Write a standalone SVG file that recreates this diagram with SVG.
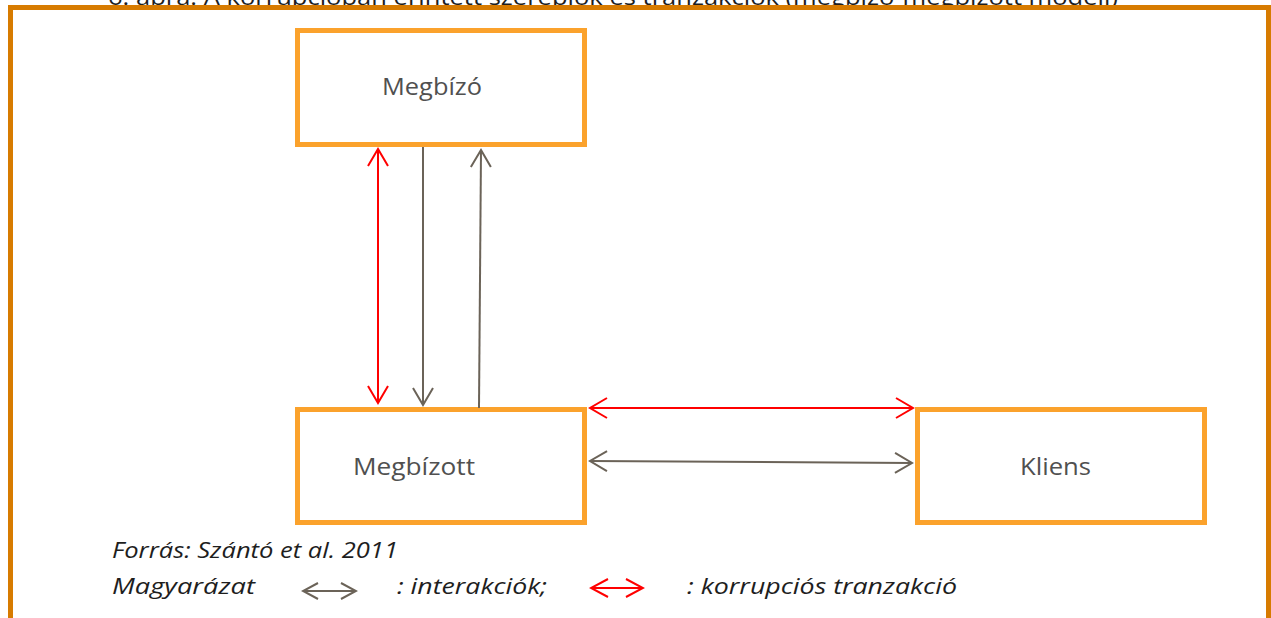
<svg xmlns="http://www.w3.org/2000/svg" width="1271" height="618" viewBox="0 0 1271 618">
  <style>
    .box { fill: #ffffff; stroke: #FBA22C; stroke-width: 5; }
    .lbl { font-family: "Open Sans", "DejaVu Sans", sans-serif; font-size: 23px; fill: #505050; }
    .foot { font-family: "Open Sans", "DejaVu Sans", sans-serif; font-style: italic; font-size: 21px; fill: #1e1e1e; }
    .red { stroke: #FF0000; stroke-width: 2; fill: none; }
    .gray { stroke: #6B6358; stroke-width: 2; fill: none; }
  </style>
  <defs>
    <marker id="ahRed" markerUnits="userSpaceOnUse" viewBox="-19 -12 21 24" refX="0" refY="0" markerWidth="21" markerHeight="24" orient="auto-start-reverse">
      <path d="M-17,-10 L0,0 L-17,10" fill="none" stroke="#FF0000" stroke-width="2"/>
    </marker>
    <marker id="ahGray" markerUnits="userSpaceOnUse" viewBox="-19 -12 21 24" refX="0" refY="0" markerWidth="21" markerHeight="24" orient="auto-start-reverse">
      <path d="M-17,-10 L0,0 L-17,10" fill="none" stroke="#6B6358" stroke-width="2"/>
    </marker>
    <marker id="ahRedS" markerUnits="userSpaceOnUse" viewBox="-19 -12 21 24" refX="0" refY="0" markerWidth="21" markerHeight="24" orient="auto-start-reverse">
      <path d="M-17,-9 L0,0 L-17,9" fill="none" stroke="#FF0000" stroke-width="2"/>
    </marker>
    <marker id="ahGrayS" markerUnits="userSpaceOnUse" viewBox="-19 -12 21 24" refX="0" refY="0" markerWidth="21" markerHeight="24" orient="auto-start-reverse">
      <path d="M-15,-8 L0,0 L-15,8" fill="none" stroke="#6B6358" stroke-width="2"/>
    </marker>
  </defs>
  <rect x="0" y="0" width="1271" height="618" fill="#ffffff"/>

  <text x="108" y="5" font-family="'Open Sans', 'DejaVu Sans', sans-serif" font-size="22" fill="#1e1e1e" textLength="1010" lengthAdjust="spacingAndGlyphs">6. ábra: A korrupcióban érintett szereplők és tranzakciók (megbízó-megbízott modell)</text>

  <rect id="frame" x="10.5" y="7.5" width="1258" height="700" fill="none" stroke="#D77B00" stroke-width="5"/>

  <g id="megbizo">
    <rect class="box" x="297.5" y="30.5" width="287" height="114"/>
    <text class="lbl" x="382" y="95" textLength="100" lengthAdjust="spacingAndGlyphs">Megbízó</text>
  </g>
  <g id="megbizott">
    <rect class="box" x="297.5" y="409.5" width="287" height="113"/>
    <text class="lbl" x="353" y="475" textLength="122" lengthAdjust="spacingAndGlyphs">Megbízott</text>
  </g>
  <g id="kliens">
    <rect class="box" x="917.5" y="409.5" width="287" height="113"/>
    <text class="lbl" x="1020" y="475" textLength="71" lengthAdjust="spacingAndGlyphs">Kliens</text>
  </g>

  <g id="connectors">
    <line class="red" x1="378" y1="149" x2="378" y2="403" marker-start="url(#ahRed)" marker-end="url(#ahRed)"/>
    <line class="gray" x1="423" y1="147" x2="423" y2="405" marker-end="url(#ahGray)"/>
    <line class="gray" x1="479" y1="408" x2="481" y2="150" marker-end="url(#ahGray)"/>
    <line class="red" x1="590" y1="408" x2="913" y2="408" marker-start="url(#ahRed)" marker-end="url(#ahRed)"/>
    <line class="gray" x1="590" y1="461" x2="912" y2="463" marker-start="url(#ahGray)" marker-end="url(#ahGray)"/>
  </g>

  <g id="footer">
    <text class="foot" x="112" y="558" textLength="286" lengthAdjust="spacingAndGlyphs">Forrás: Szántó et al. 2011</text>
    <text class="foot" x="112" y="594" textLength="143" lengthAdjust="spacingAndGlyphs">Magyarázat</text>
    <line class="gray" x1="303" y1="591" x2="356" y2="591" marker-start="url(#ahGrayS)" marker-end="url(#ahGrayS)"/>
    <text class="foot" x="397" y="594" textLength="150" lengthAdjust="spacingAndGlyphs">: interakciók;</text>
    <line class="red" x1="591" y1="588" x2="643" y2="588" marker-start="url(#ahRedS)" marker-end="url(#ahRedS)"/>
    <text class="foot" x="687" y="594" textLength="270" lengthAdjust="spacingAndGlyphs">: korrupciós tranzakció</text>
  </g>
</svg>
